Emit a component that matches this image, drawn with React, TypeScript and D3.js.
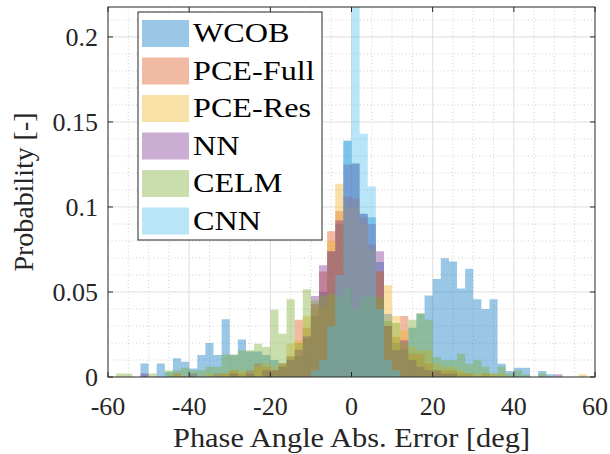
import * as React from "react";
import * as d3 from "d3";

// histogram bins: 2 deg wide, -60 .. 60
const binEdges = d3.range(-60, 61, 2);

const seriesNames = ["WCOB", "PCE-Full", "PCE-Res", "NN", "CELM", "CNN"];
const seriesColors = ["#0072bd", "#d95319", "#edb120", "#7e2f8e", "#77ac30", "#4dbeee"];

const wcob = [
  0, 0, 0, 0, 0.008, 0, 0.008, 0.003, 0.011, 0.009,
  0.005, 0.013, 0.02, 0.013, 0.034, 0.013, 0.022, 0.015, 0.015, 0.013,
  0.01, 0.008, 0.012, 0.012, 0.023, 0.036, 0.05, 0.074, 0.09, 0.139,
  0.1255, 0.096, 0.094, 0.0676, 0.037, 0.02, 0.016, 0.029, 0.037, 0.048,
  0.0576, 0.0698, 0.068, 0.052, 0.0637, 0.0457, 0.04, 0.0457, 0.0078, 0.0035,
  0.0055, 0.0055, 0, 0.0035, 0.0016, 0, 0, 0, 0, 0,
];
const pceFull = [
  0, 0, 0, 0, 0, 0, 0, 0, 0.002, 0,
  0, 0, 0, 0.002, 0.002, 0.004, 0.002, 0.004, 0.008, 0.006,
  0.004, 0.008, 0.012, 0.0337, 0.029, 0.043, 0.062, 0.0857, 0.0976, 0.106,
  0.105, 0.094, 0.078, 0.062, 0.03, 0.0235, 0.0359, 0.0137, 0.0137, 0.008,
  0.004, 0.004, 0.004, 0.002, 0.002, 0, 0.002, 0, 0, 0,
  0, 0, 0, 0, 0, 0, 0, 0, 0, 0,
];
const pceRes = [
  0, 0, 0, 0, 0, 0, 0, 0, 0.0015, 0,
  0, 0, 0.002, 0, 0.002, 0.004, 0.004, 0.002, 0.006, 0.008,
  0.006, 0.008, 0.0196, 0.0216, 0.0357, 0.04, 0.041, 0.08, 0.1137, 0.1,
  0.1, 0.09, 0.075, 0.062, 0.054, 0.0359, 0.0275, 0.0176, 0.0157, 0.0157,
  0.008, 0.006, 0.006, 0.004, 0.002, 0.002, 0.002, 0.002, 0.002, 0,
  0, 0, 0, 0, 0, 0, 0, 0, 0.0016, 0,
];
const nn = [
  0, 0, 0, 0, 0.002, 0, 0, 0, 0, 0,
  0.002, 0, 0, 0, 0, 0.002, 0, 0.002, 0, 0.004,
  0.004, 0.006, 0.01, 0.016, 0.024, 0.0476, 0.0657, 0.074, 0.092, 0.125,
  0.1255, 0.096, 0.09, 0.074, 0.03, 0.0157, 0.0216, 0.01, 0.006, 0.004,
  0.004, 0.002, 0.002, 0, 0, 0, 0, 0, 0, 0,
  0, 0, 0, 0, 0, 0.0016, 0, 0, 0, 0,
];
const celm = [
  0, 0.002, 0.002, 0, 0, 0.002, 0, 0.004, 0.004, 0.0055,
  0.004, 0.004, 0.006, 0.006, 0.0133, 0.0133, 0.0157, 0.0157, 0.0196, 0.0176,
  0.0396, 0.0255, 0.0457, 0.02, 0.0516, 0.045, 0.048, 0.049, 0.047, 0.052,
  0.04, 0.047, 0.048, 0.047, 0.033, 0.0318, 0.02, 0.0337, 0.0376, 0.0337,
  0.0118, 0.0098, 0.0098, 0.0137, 0.0078, 0.0098, 0.006, 0.002, 0.006, 0.002,
  0.004, 0.0015, 0, 0.002, 0, 0, 0, 0, 0, 0,
];
const cnn = [
  0, 0, 0, 0, 0, 0, 0, 0, 0, 0,
  0, 0, 0, 0, 0, 0, 0, 0, 0, 0,
  0, 0, 0, 0, 0, 0.004, 0.01, 0.03, 0.06, 0.139,
  0.3, 0.143, 0.112, 0.04, 0.01, 0.004, 0, 0, 0, 0,
  0, 0, 0, 0, 0, 0, 0, 0, 0, 0,
  0, 0, 0, 0, 0, 0, 0, 0, 0, 0,
];
const seriesValues = [wcob, pceFull, pceRes, nn, celm, cnn];

const xTicks = [-60, -40, -20, 0, 20, 40, 60];
const yTicks = [0, 0.05, 0.1, 0.15, 0.2];
const yTickLabels = ["0", "0.05", "0.1", "0.15", "0.2"];

const W = 610;
const H = 454;
const left = 108, right = 595, top = 7, bottom = 377;
const axisColor = "#262626";
const font = "'Liberation Serif', 'Times New Roman', serif";

export default function App() {
  const x = d3.scaleLinear().domain([-60, 60]).range([left, right]);
  const y = d3.scaleLinear().domain([0, 0.2176]).range([bottom, top]);

  const area = d3
    .area<[number, number]>()
    .x((d) => x(d[0]))
    .y0(y(0))
    .y1((d) => y(d[1]))
    .curve(d3.curveStepAfter);

  const minorX = d3.range(-60, 61, 5).filter((v) => v % 20 !== 0);
  const minorY = d3.range(0, 0.2176, 0.01).filter((v) => Math.abs(v / 0.05 - Math.round(v / 0.05)) > 1e-6);

  return (
    <svg width={W} height={H} style={{ position: "absolute", left: 0, top: 0, background: "#fff" }}>
      <defs>
        <clipPath id="plot-clip">
          <rect x={left} y={top} width={right - left} height={bottom - top} />
        </clipPath>
      </defs>
      <rect x={0} y={0} width={W} height={H} fill="#fff" />

      {/* grid */}
      <g>
        {minorX.map((v) => (
          <line key={"mx" + v} x1={x(v)} x2={x(v)} y1={top} y2={bottom} stroke="#c4c4c4" strokeWidth={0.8} strokeDasharray="1,2.5" />
        ))}
        {minorY.map((v) => (
          <line key={"my" + v} x1={left} x2={right} y1={y(v)} y2={y(v)} stroke="#c4c4c4" strokeWidth={0.8} strokeDasharray="1,2.5" />
        ))}
        {xTicks.slice(1, -1).map((v) => (
          <line key={"gx" + v} x1={x(v)} x2={x(v)} y1={top} y2={bottom} stroke="#dfdfdf" strokeWidth={1} />
        ))}
        {yTicks.slice(1).map((v) => (
          <line key={"gy" + v} x1={left} x2={right} y1={y(v)} y2={y(v)} stroke="#dfdfdf" strokeWidth={1} />
        ))}
      </g>

      {/* histograms */}
      <g clipPath="url(#plot-clip)">
        {seriesValues.map((vals, si) => {
          const pts: [number, number][] = binEdges.map((e, i) => [e, vals[Math.min(i, vals.length - 1)]]);
          return <path key={seriesNames[si]} d={area(pts) || ""} fill={seriesColors[si]} fillOpacity={0.4} stroke="none" />;
        })}
      </g>

      {/* axes box and ticks */}
      <rect x={left} y={top} width={right - left} height={bottom - top} fill="none" stroke={axisColor} strokeWidth={1} />
      {xTicks.map((v) => (
        <g key={"xt" + v}>
          <line x1={x(v)} x2={x(v)} y1={bottom} y2={bottom - 5} stroke={axisColor} />
          <line x1={x(v)} x2={x(v)} y1={top} y2={top + 5} stroke={axisColor} />
          <text x={x(v)} y={415} textAnchor="middle" fontFamily={font} fontSize={26} fill={axisColor}>
            {v}
          </text>
        </g>
      ))}
      {yTicks.map((v, i) => (
        <g key={"yt" + v}>
          <line x1={left} x2={left + 5} y1={y(v)} y2={y(v)} stroke={axisColor} />
          <line x1={right} x2={right - 5} y1={y(v)} y2={y(v)} stroke={axisColor} />
          <text x={98} y={y(v) + 9} textAnchor="end" fontFamily={font} fontSize={26} fill={axisColor}>
            {yTickLabels[i]}
          </text>
        </g>
      ))}

      {/* axis titles */}
      <text x={(left + right) / 2} y={447} textAnchor="middle" fontFamily={font} fontSize={27} fill={axisColor} textLength={357} lengthAdjust="spacingAndGlyphs">
        Phase Angle Abs. Error [deg]
      </text>
      <text transform={`translate(33,${(top + bottom) / 2}) rotate(-90)`} textAnchor="middle" fontFamily={font} fontSize={27} fill={axisColor} textLength={159} lengthAdjust="spacingAndGlyphs">
        Probability [-]
      </text>

      {/* legend */}
      <g>
        <rect x={138} y={12} width={184} height={228} fill="#fff" stroke={axisColor} strokeWidth={1} />
        {seriesNames.map((name, i) => (
          <g key={name} transform={`translate(0,${i * 37.5})`}>
            <rect x={142} y={20} width={47} height={27} fill={seriesColors[i]} fillOpacity={0.4} />
            <text transform="translate(193,42) scale(1.15,1)" fontFamily={font} fontSize={28} fill="#000">
              {name}
            </text>
          </g>
        ))}
      </g>
    </svg>
  );
}
